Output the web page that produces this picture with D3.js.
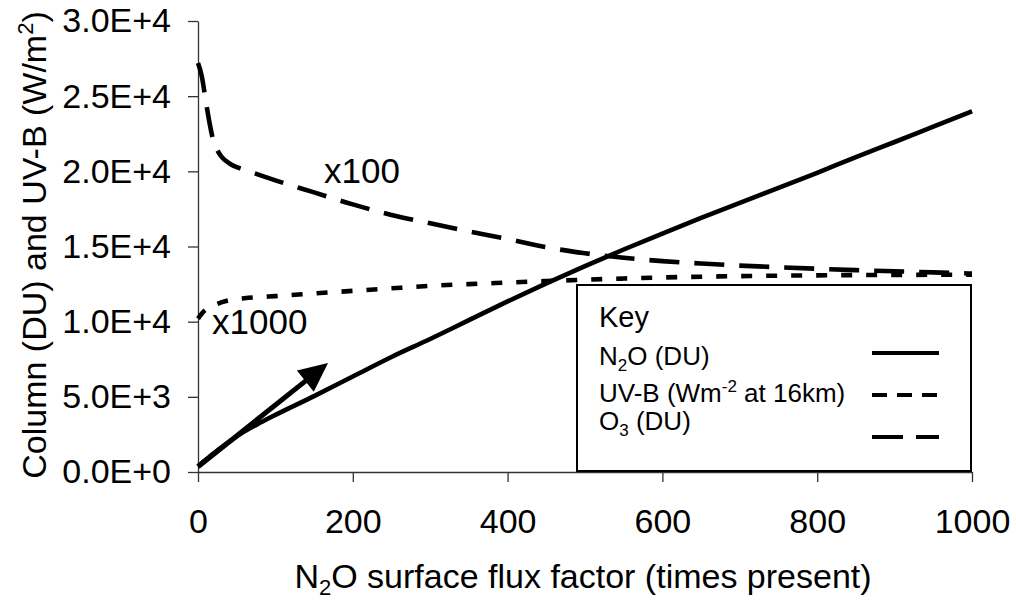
<!DOCTYPE html>
<html>
<head>
<meta charset="utf-8">
<script src="https://cdn.jsdelivr.net/npm/d3@7"></script>
<style>
  body { margin: 0; background: #fff; }
  svg { font-family: "Liberation Sans", Arial, sans-serif; }
</style>
</head>
<body>
<div id="chart"></div>
<script>
// N2O surface flux factor (times present)
var flux = [0, 5, 10, 15, 20, 25, 30, 40, 60, 80, 100, 150, 200, 250, 300, 350, 400, 450, 500, 550, 600, 650, 700, 750, 800, 850, 900, 950, 1000];

// N2O column (DU)
var n2o = [380, 600, 810, 1020, 1230, 1430, 1620, 2000, 2700, 3270, 3800, 5050, 6350, 7650, 8850, 10100, 11350, 12550, 13700, 14800, 15850, 16900, 17900, 18900, 19900, 20950, 21950, 22980, 24000];

// UV-B at 16km, x1000
var uvb = [10200, 10550, 10800, 10950, 11080, 11180, 11280, 11420, 11560, 11640, 11700, 11880, 12050, 12220, 12380, 12500, 12600, 12700, 12790, 12870, 12940, 12990, 13030, 13060, 13080, 13100, 13110, 13120, 13130];

// O3 column, x100
var o3 = [27200, 26300, 24700, 23200, 22000, 21400, 21000, 20550, 20100, 19750, 19400, 18600, 17800, 17100, 16550, 16000, 15500, 14950, 14550, 14250, 14030, 13870, 13730, 13620, 13520, 13430, 13350, 13280, 13200];

var xTicks = [0, 200, 400, 600, 800, 1000];
var xTickLabels = ["0", "200", "400", "600", "800", "1000"];
var yTicks = [0, 5000, 10000, 15000, 20000, 25000, 30000];
var yTickLabels = ["0.0E+0", "5.0E+3", "1.0E+4", "1.5E+4", "2.0E+4", "2.5E+4", "3.0E+4"];

// arrow annotation, data units: [flux, value]
var arrowFrom = [0, 350];
var arrowTo = [168, 7250];

var svgWidth = 1016;
var svgHeight = 602;

var svg = d3.select("#chart")
  .append("svg")
  .attr("width", svgWidth)
  .attr("height", svgHeight);

var xScale = d3.scaleLinear().domain([0, 1000]).range([198, 972]);
var yScale = d3.scaleLinear().domain([0, 30000]).range([472, 21]);

// axes
var xAxis = d3.axisBottom(xScale)
  .tickValues(xTicks)
  .tickFormat((d, i) => xTickLabels[i])
  .tickSize(10)
  .tickSizeOuter(0)
  .tickPadding(27);

var yAxis = d3.axisLeft(yScale)
  .tickValues(yTicks)
  .tickFormat((d, i) => yTickLabels[i])
  .tickSize(10)
  .tickSizeOuter(0)
  .tickPadding(17);

var gx = svg.append("g")
  .attr("transform", `translate(0, ${yScale(0)})`)
  .call(xAxis);

var gy = svg.append("g")
  .attr("transform", `translate(${xScale(0)}, 0)`)
  .call(yAxis);

[gx, gy].forEach(function(g) {
  g.selectAll("path, line").attr("stroke", "#333").attr("stroke-width", 1.3);
  g.selectAll("text").attr("font-size", 34).attr("fill", "#000")
    .attr("font-family", "'Liberation Sans', Arial, sans-serif");
});

// series lines
var series = [
  { vals: n2o, dash: null },
  { vals: uvb, dash: "11,14" },
  { vals: o3, dash: "30,15" }
];

var line = d3.line()
  .x((d, i) => xScale(flux[i]))
  .y(d => yScale(d))
  .curve(d3.curveMonotoneX);

series.forEach(function(s) {
  svg.append("path")
    .datum(s.vals)
    .attr("d", line)
    .attr("fill", "none")
    .attr("stroke", "#000")
    .attr("stroke-width", 4.6)
    .attr("stroke-dasharray", s.dash);
});

// arrow
var ax0 = xScale(arrowFrom[0]), ay0 = yScale(arrowFrom[1]);
var ax1 = xScale(arrowTo[0]), ay1 = yScale(arrowTo[1]);
var ang = Math.atan2(ay1 - ay0, ax1 - ax0);
var headLen = 29, headHalf = 13.5;
var bx = ax1 - headLen * Math.cos(ang), by = ay1 - headLen * Math.sin(ang);

svg.append("line")
  .attr("x1", ax0).attr("y1", ay0)
  .attr("x2", bx + 4 * Math.cos(ang)).attr("y2", by + 4 * Math.sin(ang))
  .attr("stroke", "#000")
  .attr("stroke-width", 5);

svg.append("polygon")
  .attr("points", [
    [ax1, ay1],
    [bx - headHalf * Math.sin(ang), by + headHalf * Math.cos(ang)],
    [bx + headHalf * Math.sin(ang), by - headHalf * Math.cos(ang)]
  ].map(p => p.join(",")).join(" "))
  .attr("fill", "#000");

// scale labels
svg.append("text").attr("x", 324).attr("y", 183)
  .attr("font-size", 35).text("x100");
svg.append("text").attr("x", 212).attr("y", 334)
  .attr("font-size", 35).text("x1000");

// axis titles
var xt = svg.append("text")
  .attr("x", 583).attr("y", 588)
  .attr("text-anchor", "middle")
  .attr("font-size", 34);
xt.append("tspan").text("N");
xt.append("tspan").attr("font-size", 22).attr("dy", 7).text("2");
xt.append("tspan").attr("dy", -7).text("O surface flux factor (times present)");

var yt = svg.append("text")
  .attr("transform", "translate(46, 245) rotate(-90)")
  .attr("text-anchor", "middle")
  .attr("font-size", 34);
yt.append("tspan").text("Column (DU) and UV-B (W/m");
yt.append("tspan").attr("font-size", 22).attr("dy", -13).text("2");
yt.append("tspan").attr("dy", 13).text(")");

// legend
var legend = svg.append("g");

legend.append("rect")
  .attr("x", 577).attr("y", 285)
  .attr("width", 394).attr("height", 186)
  .attr("fill", "#fff")
  .attr("stroke", "#000")
  .attr("stroke-width", 2);

legend.append("text").attr("x", 599).attr("y", 327)
  .attr("font-size", 29).text("Key");

var l1 = legend.append("text").attr("x", 599).attr("y", 365).attr("font-size", 26);
l1.append("tspan").text("N");
l1.append("tspan").attr("font-size", 17).attr("dy", 6).text("2");
l1.append("tspan").attr("dy", -6).text("O (DU)");

var l2 = legend.append("text").attr("x", 599).attr("y", 402).attr("font-size", 26);
l2.append("tspan").text("UV-B (Wm");
l2.append("tspan").attr("font-size", 17).attr("dy", -10).text("-2");
l2.append("tspan").attr("dy", 10).text(" at 16km)");

var l3 = legend.append("text").attr("x", 599).attr("y", 430).attr("font-size", 26);
l3.append("tspan").text("O");
l3.append("tspan").attr("font-size", 17).attr("dy", 6).text("3");
l3.append("tspan").attr("dy", -6).text(" (DU)");

var legendLines = [
  { y: 353, dash: null },
  { y: 395, dash: "15,10" },
  { y: 437, dash: "31,13" }
];

legendLines.forEach(function(l) {
  legend.append("line")
    .attr("x1", 872).attr("x2", 939)
    .attr("y1", l.y).attr("y2", l.y)
    .attr("stroke", "#000")
    .attr("stroke-width", 4)
    .attr("stroke-dasharray", l.dash);
});
</script>
</body>
</html>
